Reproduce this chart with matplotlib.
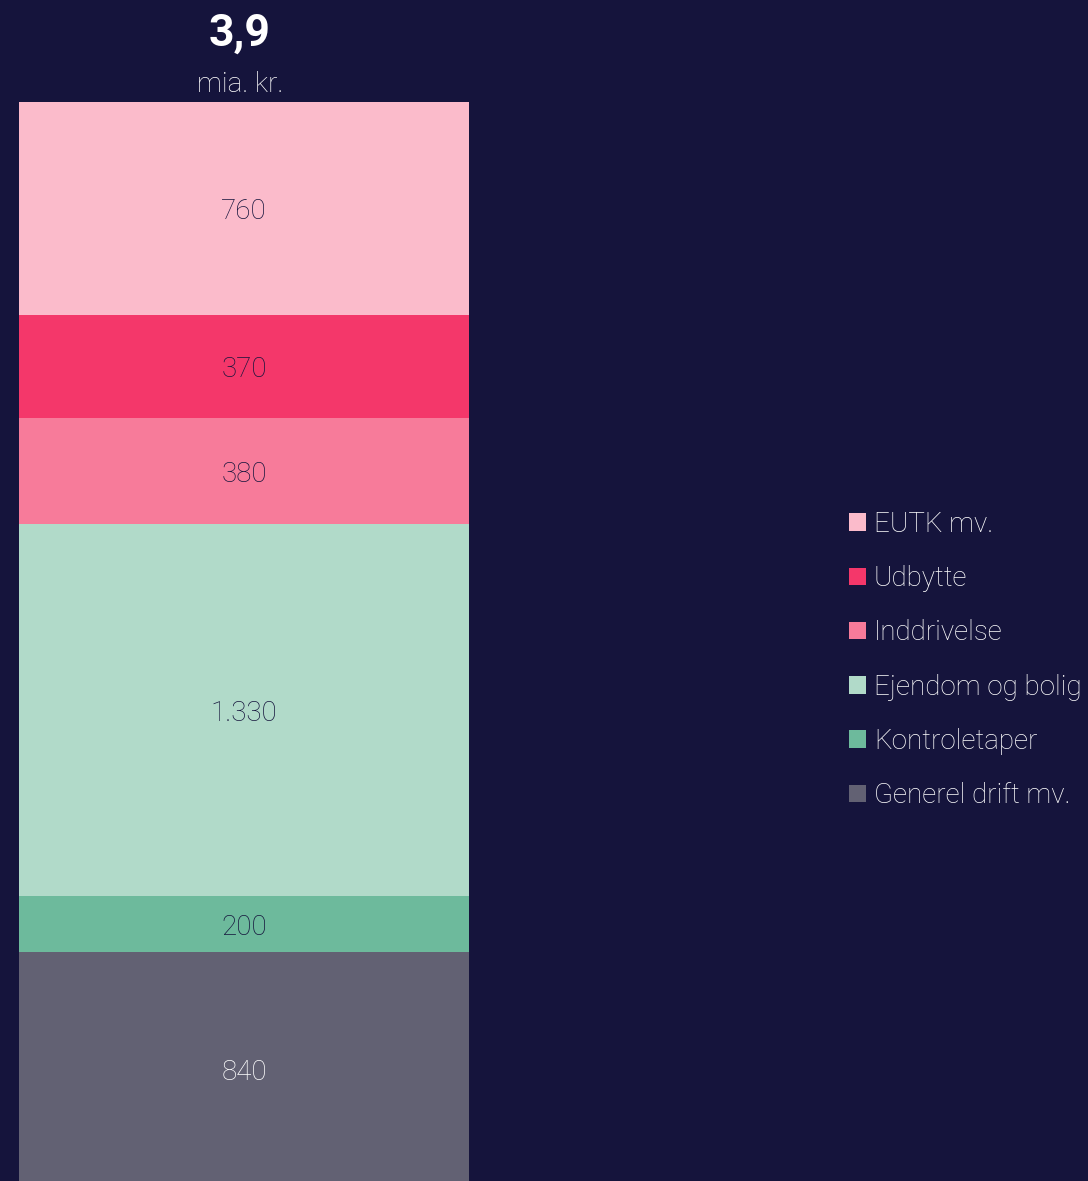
import matplotlib.pyplot as plt

# data, bottom to top
categories = ['Generel drift mv.', 'Kontroletaper', 'Ejendom og bolig',
              'Inddrivelse', 'Udbytte', 'EUTK mv.']
values = [840, 200, 1330, 380, 370, 760]
value_labels = ['840', '200', '1.330', '380', '370', '760']
colors = ['#626173', '#6dba9c', '#b1dac9', '#f77b9a', '#f4376a', '#fbbbcb']
label_colors = ['white', '#15143c', '#15143c', '#15143c', '#15143c', '#15143c']
total_label = '3,9'
unit_label = 'mia. kr.'

bg = '#15143c'
font = 'Roboto'

fig = plt.figure(figsize=(10.88, 11.81), dpi=100)
fig.patch.set_facecolor(bg)

W, H = 1088, 1181
ax = fig.add_axes([19 / W, -6 / H, 450 / W, 1085 / H])
ax.set_facecolor(bg)
ax.set_xlim(-0.5, 0.5)
ax.set_ylim(0, sum(values))
ax.axis('off')

bottom = 0
handles = []
for cat, v, lab, c, tc in zip(categories, values, value_labels, colors, label_colors):
    b = ax.bar(0, v, width=1.0, bottom=bottom, color=c, label=cat)
    handles.append(b)
    ax.text(0, bottom + v / 2, lab, ha='center', va='center_baseline', color=tc,
            fontsize=20, family=font, fontweight='light')
    bottom += v

fig.text(240 / W, 1 - 34 / H, total_label, ha='center', va='center', color='white',
         fontsize=32, family=font, fontweight='bold')
fig.text(240 / W, 1 - 85 / H, unit_label, ha='center', va='center', color='white',
         fontsize=20, family=font, fontweight='light')

leg = fig.legend(handles[::-1], categories[::-1], loc='upper left',
                 bbox_to_anchor=(849 / W, 1 - 511 / H), frameon=False,
                 prop={'family': font, 'size': 20, 'weight': 'light'},
                 handlelength=0.6, handleheight=0.6, handletextpad=0.3,
                 labelspacing=0.98, borderaxespad=0, borderpad=0)
for t in leg.get_texts():
    t.set_color('white')

fig.savefig('out.png', dpi=100, facecolor=bg)
